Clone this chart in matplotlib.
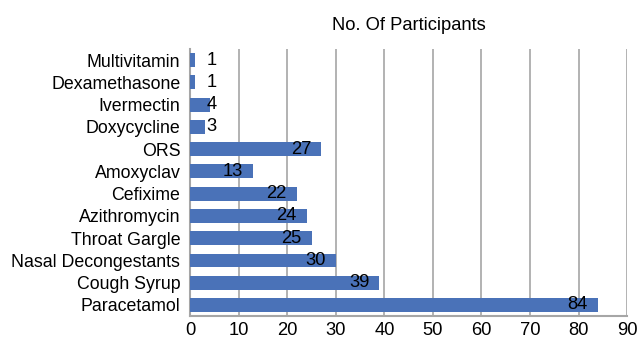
import matplotlib.pyplot as plt

plt.rcParams['font.family'] = ['Liberation Sans', 'DejaVu Sans']

# medicines, listed top to bottom
drugs = ['Multivitamin', 'Dexamethasone', 'Ivermectin', 'Doxycycline', 'ORS',
         'Amoxyclav', 'Cefixime', 'Azithromycin', 'Throat Gargle',
         'Nasal Decongestants', 'Cough Syrup', 'Paracetamol']
participants = [1, 1, 4, 3, 27, 13, 22, 24, 25, 30, 39, 84]

fs = 13.2

fig = plt.figure(figsize=(6.4, 3.38), dpi=100)
ax = fig.add_axes([0.297, 0.065, 0.683, 0.79])

ypos = list(range(len(drugs)))[::-1]
ax.barh(ypos, participants, height=0.62, color='#4a72b8', zorder=3)

# value labels sit just inside the bar end, pushed out when the bar is short
for y, v in zip(ypos, participants):
    if v - 2.1 > 5.6:
        ax.text(v - 2.1, y, str(v), ha='right', va='center', fontsize=fs, zorder=4)
    else:
        ax.text(3.4, y, str(v), ha='left', va='center', fontsize=fs, zorder=4)

ax.set_yticks(ypos)
ax.set_yticklabels(drugs, fontsize=12.8)
ax.set_ylim(-0.5, len(drugs) - 0.5)
ax.set_xlim(0, 90)
ax.set_xticks(range(0, 91, 10))
ax.tick_params(axis='x', labelsize=fs, length=0, pad=4)
ax.tick_params(axis='y', length=0, pad=7)

ax.grid(axis='x', color='#a6a6a6', linewidth=1.2, zorder=0)
for s in ['top', 'right']:
    ax.spines[s].set_visible(False)
for s in ['left', 'bottom']:
    ax.spines[s].set_color('#a6a6a6')
    ax.spines[s].set_linewidth(1.5)

ax.set_title('No. Of Participants', fontsize=fs, pad=14)

fig.savefig('out.png', dpi=100)
